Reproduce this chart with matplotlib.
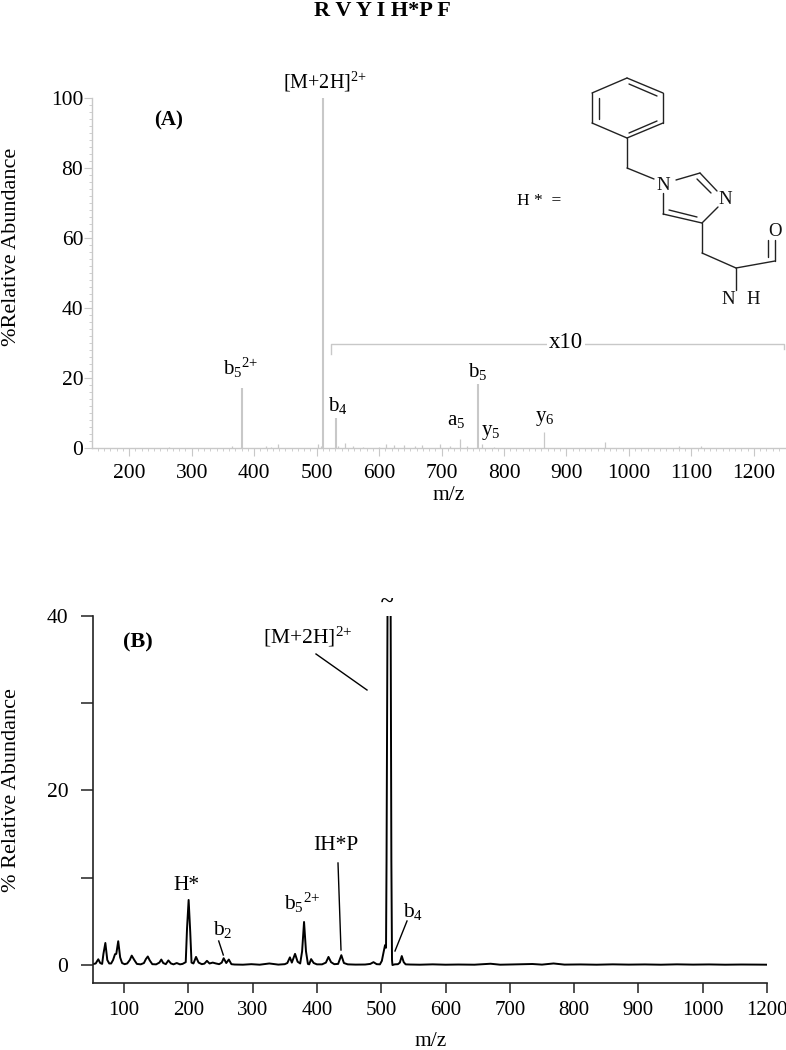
"""
R V Y I H*P F - MS/MS spectra (A) and (B), with the H* structure drawn in
"""

import matplotlib
matplotlib.use("Agg")
import matplotlib.pyplot as plt
import numpy as np
from matplotlib.ticker import MultipleLocator

plt.rcParams['font.family'] = ['Liberation Serif', 'DejaVu Serif']
plt.rcParams['mathtext.fontset'] = 'custom'
plt.rcParams['mathtext.rm'] = 'Liberation Serif'
plt.rcParams['mathtext.it'] = 'Liberation Serif'
plt.rcParams['mathtext.default'] = 'rm'

W, H = 786, 1050

# 谱图A: 棒状峰
peak_mz = [263, 364, 380, 419, 427, 437.5, 502, 507, 510.5, 531.6, 535, 545,
           558, 574, 600, 611, 624, 640, 658, 668, 698, 713, 730, 741, 759,
           765, 784, 864.6, 962, 1080, 1115]
peak_int = [0.2, 0.4, 17.2, 0.35, 0.3, 1.05, 0.95, 0.4, 100, 8.6, 0.5, 1.25,
            0.5, 0.3, 0.3, 1.15, 0.65, 0.7, 0.5, 0.7, 0.95, 0.4, 2.6, 0.4, 18.3,
            1.15, 0.3, 4.5, 1.6, 0.4, 0.55]

# 谱图B: 连续谱线 (上升沿到40截断, 分两段)
trace1_mz = [53, 56, 58, 60, 63, 66, 68, 71, 74, 77, 80, 83, 86, 88, 91, 94, 97,
             101, 105, 109, 112, 116, 120, 126, 131, 134, 137, 140, 144, 150, 155,
             158, 161, 165, 169, 173, 177, 182, 187, 191, 196, 198, 200.5, 203,
             205, 208, 212, 216, 221, 225, 229, 233, 238, 243, 248, 252, 255, 259,
             263, 267, 272, 285, 298, 311, 326, 340, 350, 354, 358, 361, 366, 370,
             374, 377, 380, 383, 386, 388, 391, 395, 400, 408, 414, 418, 422, 427,
             433, 438, 442, 448, 460, 475, 483, 488, 493, 498, 501, 504, 506, 507.5,
             508.3, 509.8]
trace1_int = [0.15, 0.2, 0.45, 0.68, 0.25, 0.15, 1.3, 2.55, 0.6, 0.2, 0.2, 0.6, 1.26,
              1.3, 2.75, 0.9, 0.25, 0.12, 0.2, 0.6, 1.1, 0.6, 0.15, 0.1, 0.25, 0.7,
              1.0, 0.55, 0.12, 0.1, 0.3, 0.65, 0.25, 0.12, 0.55, 0.2, 0.1, 0.25, 0.1,
              0.15, 0.35, 4.2, 7.47, 3.8, 0.3, 0.2, 0.95, 0.3, 0.12, 0.18, 0.5, 0.2,
              0.3, 0.2, 0.12, 0.3, 0.8, 0.25, 0.65, 0.12, 0.08, 0.06, 0.12, 0.06, 0.2,
              0.07, 0.12, 0.25, 0.9, 0.3, 1.3, 0.4, 0.2, 1.6, 4.95, 1.6, 0.15, 0.1, 0.7,
              0.25, 0.1, 0.1, 0.3, 0.95, 0.35, 0.12, 0.15, 1.15, 0.25, 0.1, 0.07, 0.08,
              0.15, 0.35, 0.12, 0.1, 0.5, 1.6, 2.3, 2.0, 12, 40]
trace2_mz = [514.7, 515.8, 516.8, 517.5, 521, 526, 529, 532, 535, 538, 545, 560, 580,
             600, 620, 645, 670, 685, 705, 735, 750, 768, 785, 810, 835, 860, 885, 910,
             935, 960, 985, 1010, 1035, 1060, 1085, 1100]
trace2_int = [40, 12, 0.6, 0.02, 0.1, 0.12, 0.3, 1.05, 0.35, 0.1, 0.08, 0.06, 0.1,
              0.06, 0.08, 0.06, 0.17, 0.06, 0.09, 0.14, 0.07, 0.2, 0.07, 0.09, 0.06,
              0.1, 0.07, 0.09, 0.06, 0.1, 0.07, 0.09, 0.06, 0.08, 0.07, 0.06]

ticks_a = [200, 300, 400, 500, 600, 700, 800, 900, 1000, 1100, 1200]
ticks_b = [100, 200, 300, 400, 500, 600, 700, 800, 900, 1000, 1100]
tick_labels_b = ['100', '200', '300', '400', '500', '600', '700', '800', '900', '1000', '1200']

GREY = '#c8c8c8'


def px_axes(fig, left, right, top, bottom):
    return fig.add_axes([left / W, 1 - bottom / H, (right - left) / W, (bottom - top) / H])


def draw_structure(ov):
    """H* 结构式 (坐标取自原图像素)"""
    bonds = [
        ((627, 78), (663, 93)), ((663, 93), (663, 123)), ((663, 123), (627, 138)),
        ((627, 138), (592, 123)), ((592, 123), (592, 93)), ((592, 93), (627, 78)),
        ((629, 84), (657, 96)), ((599, 98), (599, 119)), ((629, 133), (657, 121)),
        ((627, 138), (627, 168)), ((627, 168), (654, 179)),
        ((676, 180), (700, 173)), ((700, 173), (717, 191)), ((697, 179), (711, 193)),
        ((718, 207), (702, 223)), ((702, 223), (663, 214)), ((697, 217), (669, 210)),
        ((663, 214), (663, 193)),
        ((702, 223), (702, 253)), ((702, 253), (736, 268)), ((736, 268), (775, 261)),
        ((775, 261), (775, 240)), ((768, 257), (768, 240)), ((736, 268), (736, 290)),
    ]
    for p, q in bonds:
        ov.plot([p[0], q[0]], [p[1], q[1]], color='#222222', lw=1.0, solid_capstyle='round')
    for x, y, s in [(663, 186, 'N'), (725, 200, 'N'), (775, 232, 'O'), (728, 300, 'N'), (753, 300, 'H')]:
        ov.text(x, y, s, ha='center', va='center', fontsize=13.5, color='#111111')
    ov.text(539, 201, 'H *  =', ha='center', va='center', fontsize=12.5)


def main():
    fig = plt.figure(figsize=(W / 100, H / 100), dpi=100)

    # (A)
    ax = px_axes(fig, 92.3, 784.5, 98.3, 447.7)
    ax.vlines(peak_mz, 0, peak_int, color=GREY, lw=[1.5 if v > 5 else 0.9 for v in peak_int])
    ax.set_xlim(141, 1249)
    ax.set_ylim(0, 100)
    ax.set_xticks(ticks_a)
    ax.xaxis.set_minor_locator(MultipleLocator(10))
    ax.yaxis.set_major_locator(MultipleLocator(20))
    ax.yaxis.set_minor_locator(MultipleLocator(2))
    ax.tick_params(which='major', length=5.5, width=0.8, color=GREY, labelsize=15.5, pad=6)
    ax.tick_params(which='minor', length=2.5, width=0.6, color=GREY)
    ax.tick_params(axis='y', which='major', pad=1)
    for s in ['top', 'right']:
        ax.spines[s].set_visible(False)
    for s in ['left', 'bottom']:
        ax.spines[s].set_color(GREY)
        ax.spines[s].set_linewidth(1.0)

    # (B)
    bx = px_axes(fig, 92.5, 767, 615.7, 982.7)
    bx.plot(trace1_mz, trace1_int, color='black', lw=1.4, solid_joinstyle='round')
    bx.plot(trace2_mz, trace2_int, color='black', lw=1.4, solid_joinstyle='round')
    bx.set_xlim(51, 1100)
    bx.set_ylim(-2, 40)
    bx.set_xticks(ticks_b)
    bx.set_xticklabels(tick_labels_b)
    bx.set_yticks([0, 10, 20, 30, 40])
    bx.set_yticklabels(['0', '', '20', '', '40'])
    bx.tick_params(axis='x', length=7.5, width=1.1, color='#222222', labelsize=15, pad=6)
    bx.tick_params(axis='y', length=8.5, width=1.1, color='#222222', labelsize=15.5, pad=9)
    for s in ['top', 'right']:
        bx.spines[s].set_visible(False)
    for s in ['left', 'bottom']:
        bx.spines[s].set_color('#222222')
        bx.spines[s].set_linewidth(1.2)

    # 像素坐标的叠加层: 文字, 引线, 结构式
    ov = fig.add_axes([0, 0, 1, 1])
    ov.set_xlim(0, W)
    ov.set_ylim(H, 0)
    ov.axis('off')

    def t(x, y, s, size=14, **kw):
        ov.text(x, y, s, ha=kw.pop('ha', 'center'), va='center', fontsize=size, **kw)

    t(382, 11, 'R V Y I H*P F', 16, fontweight='bold')
    t(12, 247, '%Relative Abundance', 16, rotation=90)
    t(449, 496, 'm/z', 15.5)
    t(169, 120, '(A)', 15, fontweight='bold')
    t(325, 82, r'[M+2H]$^{2{+}}$', 14.5)
    t(241, 368, r'b$_5{}^{2{+}}$', 15)
    t(338, 405, r'b$_4$', 15)
    t(456, 420, r'a$_5$', 15)
    t(478, 372, r'b$_5$', 15)
    t(491, 433, r'y$_5$', 15)
    t(545, 418, r'y$_6$', 15)

    # x10 bracket
    ov.plot([331, 331, 784, 784], [354, 344, 344, 349], color=GREY, lw=1.0)
    ov.text(566, 342, 'x10', ha='center', va='center', fontsize=16.5,
            bbox=dict(facecolor='white', edgecolor='none', pad=1.5))

    t(12, 790, '% Relative Abundance', 16, rotation=90)
    t(431, 1042, 'm/z', 15.5)
    t(138, 642, '(B)', 16, fontweight='bold')
    t(387, 603, '~', 17, fontweight='bold')
    t(308, 637, r'[M+2H]$^{2{+}}$', 15.5)
    t(186, 885, 'H*', 15.5)
    t(223, 930, r'b$_2$', 15.5)
    t(302, 903, r'b$_5{}^{2{+}}$', 15.5)
    t(336, 846, 'IH*P', 15.5)
    t(413, 911, r'b$_4$', 15.5)
    for p, q in [((316, 654), (367, 690)), ((218.7, 941), (223.3, 955)),
                 ((338, 863), (341, 950)), ((407, 921), (395, 951))]:
        ov.plot([p[0], q[0]], [p[1], q[1]], color='black', lw=1.0)

    draw_structure(ov)

    fig.savefig('out.png', dpi=100)
    plt.close(fig)


if __name__ == "__main__":
    main()
